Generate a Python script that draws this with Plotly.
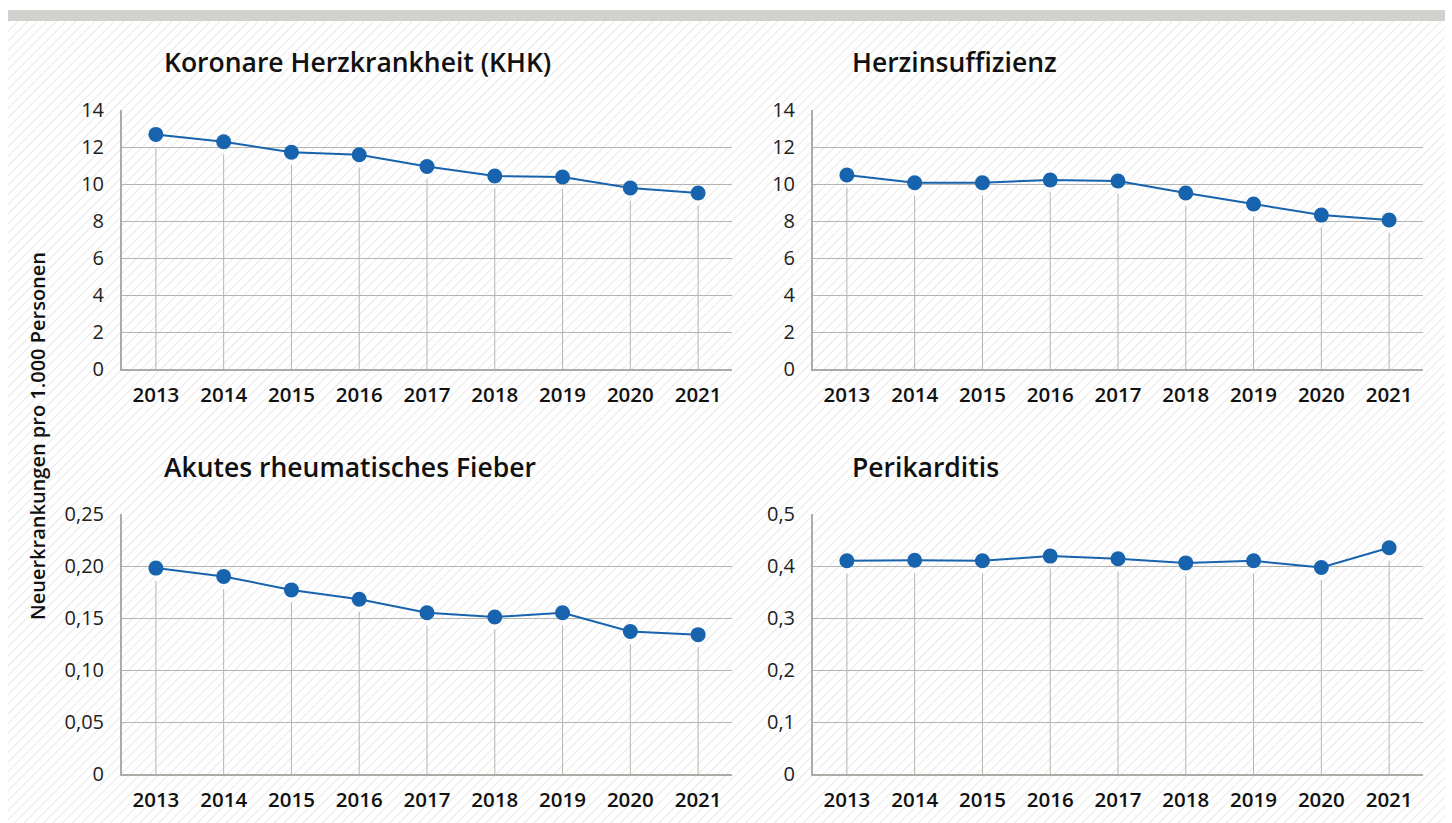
import base64
import plotly.graph_objects as go

W, H = 1452, 823

years = ["2013", "2014", "2015", "2016", "2017", "2018", "2019", "2020", "2021"]

khk = [12.68, 12.28, 11.72, 11.58, 10.95, 10.43, 10.38, 9.78, 9.51]
herzinsuff = [10.49, 10.07, 10.07, 10.22, 10.16, 9.51, 8.92, 8.32, 8.05]
fieber = [0.198, 0.190, 0.177, 0.168, 0.155, 0.151, 0.155, 0.137, 0.134]
perikarditis = [0.410, 0.411, 0.410, 0.419, 0.414, 0.406, 0.410, 0.397, 0.435]

titles = ["Koronare Herzkrankheit (KHK)", "Herzinsuffizienz",
          "Akutes rheumatisches Fieber", "Perikarditis"]
y_title = "Neuerkrankungen pro 1.000 Personen"

ticks_khk = [0, 2, 4, 6, 8, 10, 12, 14]
labels_khk = ["0", "2", "4", "6", "8", "10", "12", "14"]
ticks_fieber = [0, 0.05, 0.10, 0.15, 0.20, 0.25]
labels_fieber = ["0", "0,05", "0,10", "0,15", "0,20", "0,25"]
ticks_peri = [0, 0.1, 0.2, 0.3, 0.4, 0.5]
labels_peri = ["0", "0,1", "0,2", "0,3", "0,4", "0,5"]

FONT = "'Open Sans', 'Noto Sans', sans-serif"
BLUE = "#1763ae"
GRID = "#b3b6b0"
AXIS = "#a9ada6"

# panel geometry in pixels (left, right, top, bottom)
panels = [
    (122, 732, 110, 369),
    (813, 1423, 110, 369),
    (122, 732, 514, 774),
    (813, 1423, 514, 774),
]
series = [khk, herzinsuff, fieber, perikarditis]
ranges = [14, 14, 0.25, 0.5]
tickvals = [ticks_khk, ticks_khk, ticks_fieber, ticks_peri]
ticktexts = [labels_khk, labels_khk, labels_fieber, labels_peri]
title_pos = [(162, 62), (850, 62), (162, 467), (850, 467)]

fig = go.Figure()

GAP_PX = 12.5
for i, (vals, (l, r, t, b), ymax) in enumerate(zip(series, panels, ranges)):
    xa = "x" if i == 0 else f"x{i+1}"
    ya = "y" if i == 0 else f"y{i+1}"
    gap = GAP_PX * ymax / (b - t)
    dx, dy = [], []
    for yr, v in zip(years, vals):
        dx += [yr, yr, None]
        dy += [0, v - gap, None]
    fig.add_trace(go.Scatter(x=dx, y=dy, mode="lines", xaxis=xa, yaxis=ya,
                             line=dict(color=GRID, width=1), hoverinfo="skip",
                             showlegend=False))
    fig.add_trace(go.Scatter(x=years, y=vals, mode="lines+markers", xaxis=xa, yaxis=ya,
                             line=dict(color=BLUE, width=2),
                             marker=dict(color=BLUE, size=15),
                             cliponaxis=False, showlegend=False))
    xkey = "xaxis" if i == 0 else f"xaxis{i+1}"
    ykey = "yaxis" if i == 0 else f"yaxis{i+1}"
    fig.update_layout(**{
        xkey: dict(domain=[l / W, r / W], anchor=ya, type="category",
                   range=[-0.5, 8.5], showgrid=False, zeroline=False,
                   showline=True, linecolor=AXIS, linewidth=2, automargin=False,
                   ticks="", ticklabelstandoff=6,
                   tickfont=dict(family=FONT, size=20.5, color="#111111", weight=600)),
        ykey: dict(domain=[1 - b / H, 1 - t / H], anchor=xa, range=[0, ymax],
                   tickvals=tickvals[i], ticktext=ticktexts[i], automargin=False,
                   showgrid=True, gridcolor=GRID, gridwidth=1, zeroline=False,
                   showline=True, linecolor=AXIS, linewidth=2,
                   ticks="", ticklabelstandoff=12,
                   tickfont=dict(family=FONT, size=20, color="#222222")),
    })
    tx, ty = title_pos[i]
    fig.add_annotation(text=titles[i], x=tx / W, y=1 - ty / H, xref="paper", yref="paper",
                       xanchor="left", yanchor="middle", showarrow=False,
                       font=dict(family=FONT, size=26.5, color="#111111", weight=650))

fig.add_annotation(text=y_title, x=38 / W, y=1 - 436 / H, xref="paper", yref="paper",
                   xanchor="center", yanchor="middle", textangle=-90, showarrow=False,
                   font=dict(family=FONT, size=20, color="#111111", weight=650))

# hatched background
hx0, hx1, hy0, hy1 = 8, 1445, 21, 823
hw, hh = hx1 - hx0, hy1 - hy0
svg = (f'<svg xmlns="http://www.w3.org/2000/svg" width="{hw}" height="{hh}" '
       f'viewBox="0 0 {hw} {hh}" preserveAspectRatio="none">'
       '<defs><pattern id="h" width="6.8" height="6.8" patternUnits="userSpaceOnUse" '
       'patternTransform="rotate(45)"><line x1="0" y1="0" x2="0" y2="6.8" '
       'stroke="#dadada" stroke-width="1.2"/></pattern></defs>'
       f'<rect width="{hw}" height="{hh}" fill="white"/>'
       f'<rect width="{hw}" height="{hh}" fill="url(#h)"/></svg>')
uri = "data:image/svg+xml;base64," + base64.b64encode(svg.encode()).decode()
fig.add_layout_image(source=uri, xref="paper", yref="paper", x=hx0 / W, y=1 - hy0 / H,
                     sizex=hw / W, sizey=hh / H, sizing="stretch",
                     xanchor="left", yanchor="top", layer="below")

fig.add_shape(type="rect", xref="paper", yref="paper", x0=8 / W, x1=1445 / W,
              y0=1 - 21 / H, y1=1 - 10 / H, fillcolor="#d1d1cd", line=dict(width=0),
              layer="below")

fig.update_layout(width=W, height=H,
                  margin=dict(l=0, r=0, t=0, b=0, pad=0, autoexpand=False),
                  paper_bgcolor="white", plot_bgcolor="rgba(0,0,0,0)",
                  font=dict(family=FONT), showlegend=False)

fig.write_html("out.html", config={"displayModeBar": False},
               post_script="document.body.style.margin='0';document.body.style.overflow='hidden';")
